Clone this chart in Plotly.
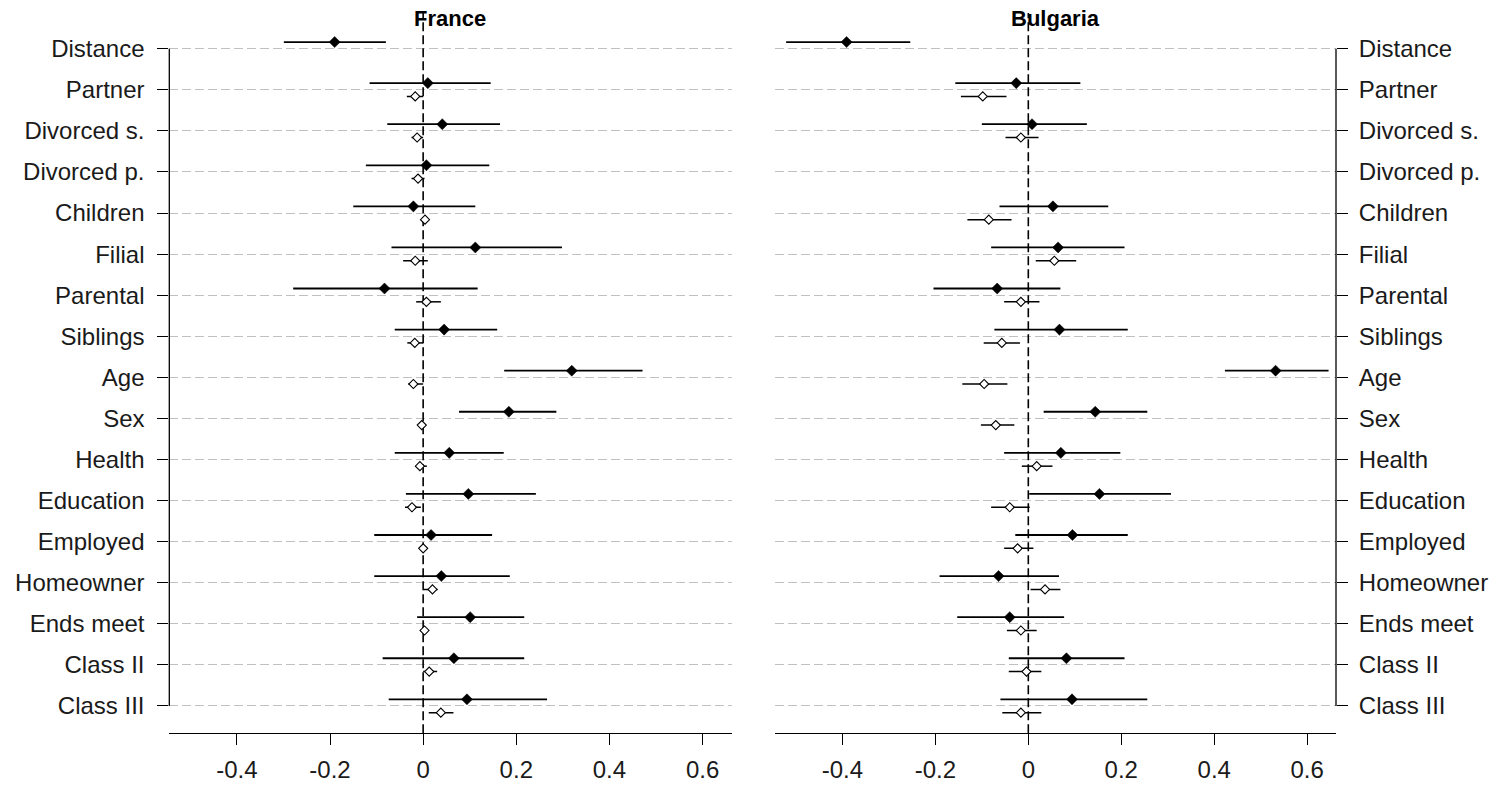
import plotly.graph_objects as go

categories = ["Distance", "Partner", "Divorced s.", "Divorced p.", "Children", "Filial",
              "Parental", "Siblings", "Age", "Sex", "Health", "Education", "Employed",
              "Homeowner", "Ends meet", "Class II", "Class III"]

x_tickvals = [-0.4, -0.2, 0, 0.2, 0.4, 0.6]
x_ticktext = ["-0.4", "-0.2", "0", "0.2", "0.4", "0.6"]

panel_titles = ["France", "Bulgaria"]

# France - filled (first model)
fr_fill_est = [-0.190, 0.010, 0.041, 0.007, -0.021, 0.112, -0.083, 0.045, 0.319, 0.184, 0.056, 0.097, 0.017, 0.039, 0.101, 0.066, 0.094]
fr_fill_lo = [-0.299, -0.115, -0.077, -0.123, -0.150, -0.068, -0.279, -0.061, 0.174, 0.077, -0.061, -0.037, -0.105, -0.105, -0.013, -0.087, -0.074]
fr_fill_hi = [-0.080, 0.145, 0.165, 0.142, 0.112, 0.298, 0.117, 0.159, 0.471, 0.286, 0.173, 0.242, 0.148, 0.186, 0.217, 0.217, 0.266]

# France - open (second model)
fr_open_est = [None, -0.017, -0.013, -0.011, 0.004, -0.017, 0.007, -0.018, -0.021, -0.003, -0.007, -0.024, 0.000, 0.020, 0.003, 0.013, 0.038]
fr_open_lo = [None, -0.035, -0.025, -0.025, -0.004, -0.043, -0.015, -0.034, -0.032, -0.010, -0.016, -0.039, -0.008, 0.001, -0.004, 0.000, 0.012]
fr_open_hi = [None, 0.000, 0.000, 0.003, 0.010, 0.010, 0.038, 0.000, 0.000, 0.004, 0.008, -0.005, 0.007, 0.031, 0.008, 0.030, 0.065]

# Bulgaria - filled
bg_fill_est = [-0.391, -0.026, 0.008, None, 0.053, 0.064, -0.067, 0.067, 0.532, 0.144, 0.070, 0.153, 0.095, -0.064, -0.040, 0.082, 0.094]
bg_fill_lo = [-0.521, -0.157, -0.100, None, -0.062, -0.080, -0.204, -0.073, 0.423, 0.033, -0.052, 0.002, -0.028, -0.191, -0.153, -0.042, -0.060]
bg_fill_hi = [-0.254, 0.112, 0.126, None, 0.172, 0.207, 0.069, 0.214, 0.646, 0.256, 0.198, 0.307, 0.214, 0.066, 0.077, 0.207, 0.256]

# Bulgaria - open
bg_open_est = [None, -0.098, -0.016, None, -0.085, 0.056, -0.016, -0.057, -0.095, -0.070, 0.018, -0.040, -0.023, 0.036, -0.016, -0.004, -0.016]
bg_open_lo = [None, -0.145, -0.049, None, -0.131, 0.016, -0.052, -0.096, -0.142, -0.102, -0.014, -0.080, -0.052, 0.005, -0.046, -0.042, -0.056]
bg_open_hi = [None, -0.047, 0.022, None, -0.036, 0.103, 0.024, -0.018, -0.045, -0.030, 0.052, 0.003, 0.011, 0.069, 0.018, 0.028, 0.028]

PAGE = 8  # default body margin of the html page
W, H = 1501 - PAGE, 785 - PAGE
OFF = 0.162
rows = list(range(len(categories)))
XR = [-0.545, 0.662]
YR = [16.665, -0.869]
FONT = "Liberation Sans, Arial, sans-serif"


def px_x(p):
    return (p - PAGE) / W


def px_y(p):
    return 1 - (p - PAGE) / H


def errs(est, lo, hi):
    plus = [None if e is None else h - e for e, h in zip(est, hi)]
    minus = [None if e is None else e - l for e, l in zip(est, lo)]
    return plus, minus


fig = go.Figure()

panels = [
    ("x", "y", fr_fill_est, fr_fill_lo, fr_fill_hi, fr_open_est, fr_open_lo, fr_open_hi),
    ("x2", "y2", bg_fill_est, bg_fill_lo, bg_fill_hi, bg_open_est, bg_open_lo, bg_open_hi),
]

for xa, ya, fe, fl, fh, oe, ol, oh in panels:
    # zero reference line
    fig.add_trace(go.Scatter(x=[0, 0], y=[YR[0], YR[1]], mode="lines",
                             line=dict(color="black", width=1.6, dash="9px,4px"),
                             xaxis=xa, yaxis=ya, showlegend=False, hoverinfo="skip"))
    p, m = errs(oe, ol, oh)
    fig.add_trace(go.Scatter(
        x=oe, y=[r + OFF for r in rows], mode="markers",
        marker=dict(symbol="diamond", size=7, color="white", line=dict(color="black", width=1.1)),
        error_x=dict(type="data", symmetric=False, array=p, arrayminus=m, width=0,
                     thickness=1.5, color="black"),
        xaxis=xa, yaxis=ya, showlegend=False))
    p, m = errs(fe, fl, fh)
    fig.add_trace(go.Scatter(
        x=fe, y=[r - OFF for r in rows], mode="markers",
        marker=dict(symbol="diamond", size=8.5, color="black", line=dict(color="black", width=0.5)),
        error_x=dict(type="data", symmetric=False, array=p, arrayminus=m, width=0,
                     thickness=1.8, color="black"),
        xaxis=xa, yaxis=ya, showlegend=False))

xd1 = [px_x(169.3), px_x(731.5)]
xd2 = [px_x(775), px_x(1336)]
yd = [px_y(733.3), px_y(13)]

xcommon = dict(range=XR, tickvals=x_tickvals, ticktext=x_ticktext, showgrid=False, zeroline=False,
               showline=True, linecolor="black", linewidth=1.3, ticks="outside", ticklen=11,
               tickwidth=1.3, tickcolor="black", tickfont=dict(family=FONT, size=24, color="#1a1a1a"),
               ticklabelstandoff=4, fixedrange=True)
ycommon = dict(range=YR, tickvals=rows, ticktext=categories, showgrid=True, gridcolor="#c0c0c0",
               gridwidth=1.2, griddash="9px,4px", zeroline=False, showline=False, ticks="outside",
               ticklen=11, tickwidth=1.3, tickcolor="black",
               tickfont=dict(family=FONT, size=24, color="#1a1a1a"), fixedrange=True)

fig.update_layout(
    width=W, height=H,
    margin=dict(l=0, r=0, t=0, b=0, autoexpand=False),
    paper_bgcolor="white", plot_bgcolor="white",
    xaxis=dict(domain=xd1, anchor="y", **xcommon),
    xaxis2=dict(domain=xd2, anchor="y2", **xcommon),
    yaxis=dict(domain=yd, anchor="x", side="left", ticklabelstandoff=8, **ycommon),
    yaxis2=dict(domain=yd, anchor="x2", side="right", ticklabelstandoff=6, **ycommon),
)

# y-axis lines spanning only the first to last category (R style)
fig.add_shape(type="line", xref="x domain", yref="y", x0=0, x1=0, y0=rows[0], y1=rows[-1],
              line=dict(color="black", width=1.3))
fig.add_shape(type="line", xref="x2 domain", yref="y2", x0=1, x1=1, y0=rows[0], y1=rows[-1],
              line=dict(color="black", width=1.3))

for xd, t in zip([xd1, xd2], panel_titles):
    fig.add_annotation(x=(xd[0] + xd[1]) / 2, y=px_y(18), xref="paper", yref="paper",
                       text="<b>%s</b>" % t, showarrow=False, xanchor="center", yanchor="middle",
                       font=dict(family=FONT, size=22, color="black"))

fig.write_html("out.html")
